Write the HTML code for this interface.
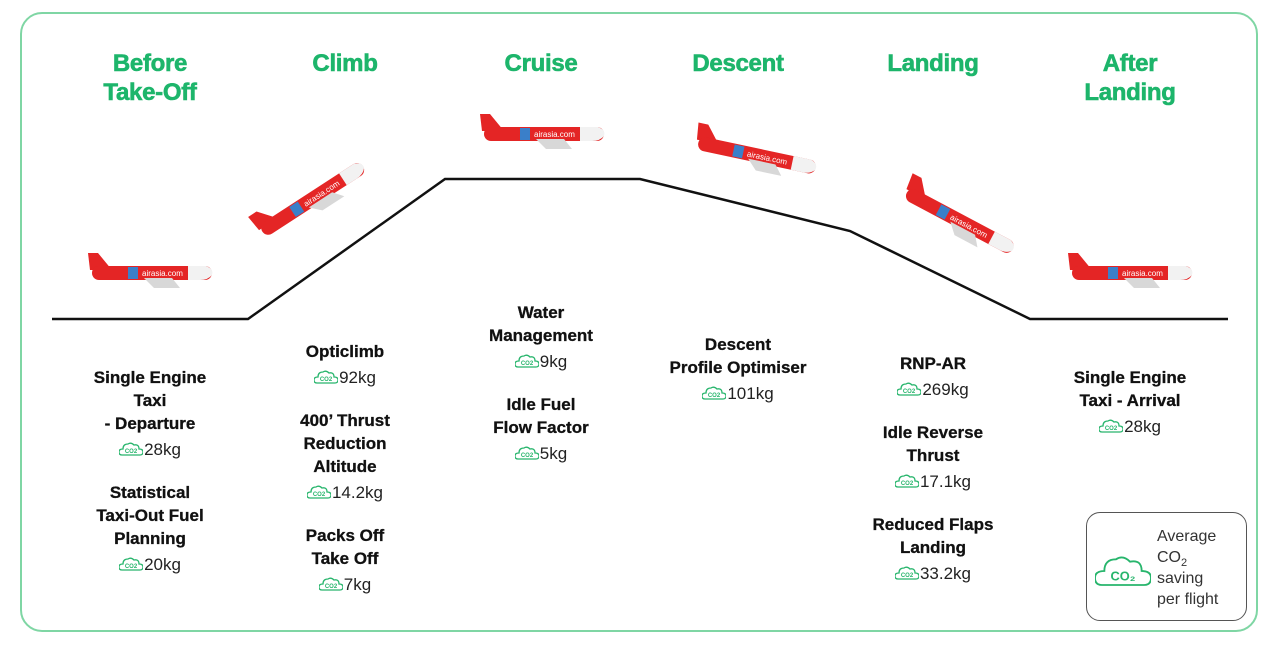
<!DOCTYPE html>
<html><head><meta charset="utf-8"><style>
body{margin:0;width:1280px;height:648px;background:#fff;position:relative;overflow:hidden;font-family:"Liberation Sans",sans-serif}
.frame{position:absolute;left:20px;top:12px;width:1238px;height:620px;border:2px solid #7fd6a4;border-radius:22px;box-sizing:border-box}
.h{position:absolute;width:200px;margin-left:-100px;text-align:center;color:#1db56b;font-weight:bold;font-size:24px;line-height:29px;letter-spacing:-0.3px;-webkit-text-stroke:0.6px #1db56b}
.col{position:absolute;width:220px;margin-left:-110px;text-align:center;font-size:17px;line-height:23px;color:#111}
.col b{display:block;font-weight:bold;-webkit-text-stroke:0.3px #111}
.c{display:block;margin-top:3px;font-size:17px;color:#222}
.g{margin-top:20px}
.ic{display:inline-block;width:24px;height:14px;vertical-align:-1px;margin-right:1px}
.leg{position:absolute;left:1086px;top:512px;width:161px;height:109px;border:1.5px solid #555;border-radius:14px;box-sizing:border-box}
.lt{position:absolute;left:70px;top:13px;font-size:16px;line-height:21px;color:#333}
.lt sub{font-size:11px;line-height:0}
</style></head><body>
<div class="frame"></div>
<svg width="1280" height="648" style="position:absolute;left:0;top:0">
<defs>
<g id="cl"><path d="M3 13 Q0 13 0 10 Q0 7 4 7 Q4 2 9 2 Q12 0 15 3 Q20 2 20 7 Q24 7 24 10 Q24 13 21 13 Z" fill="none" stroke="#27b56c" stroke-width="1.3"/></g>
</defs>
<polyline points="52,319 248,319 445,179 640,179 850,231 1030,319 1228,319" fill="none" stroke="#111" stroke-width="2.5"/>
<g transform="translate(150,273)">
<polygon points="-60,-3 -62,-20 -52,-20 -38,-3" fill="#e42525"/>
<rect x="-58" y="-7" width="120" height="14" rx="7" fill="#e42525"/>
<path d="M38 -7 H56 Q64 -4 62 2 Q58 7 50 7 H38 Z" fill="#f2f2f2"/>
<polygon points="-6,5 22,5 30,15 4,15" fill="#d8d8d8"/>
<rect x="-22" y="-6" width="10" height="12" fill="#3a7fc9"/>
<text x="-8" y="3" font-size="8" fill="#fff" font-family="Liberation Sans">airasia.com</text></g>
<g transform="translate(311,200) rotate(-33)">
<polygon points="-60,-3 -62,-20 -52,-20 -38,-3" fill="#e42525"/>
<rect x="-58" y="-7" width="120" height="14" rx="7" fill="#e42525"/>
<path d="M38 -7 H56 Q64 -4 62 2 Q58 7 50 7 H38 Z" fill="#f2f2f2"/>
<polygon points="-6,5 22,5 30,15 4,15" fill="#d8d8d8"/>
<rect x="-22" y="-6" width="10" height="12" fill="#3a7fc9"/>
<text x="-8" y="3" font-size="8" fill="#fff" font-family="Liberation Sans">airasia.com</text></g>
<g transform="translate(542,134)">
<polygon points="-60,-3 -62,-20 -52,-20 -38,-3" fill="#e42525"/>
<rect x="-58" y="-7" width="120" height="14" rx="7" fill="#e42525"/>
<path d="M38 -7 H56 Q64 -4 62 2 Q58 7 50 7 H38 Z" fill="#f2f2f2"/>
<polygon points="-6,5 22,5 30,15 4,15" fill="#d8d8d8"/>
<rect x="-22" y="-6" width="10" height="12" fill="#3a7fc9"/>
<text x="-8" y="3" font-size="8" fill="#fff" font-family="Liberation Sans">airasia.com</text></g>
<g transform="translate(755,155) rotate(12)">
<polygon points="-60,-3 -62,-20 -52,-20 -38,-3" fill="#e42525"/>
<rect x="-58" y="-7" width="120" height="14" rx="7" fill="#e42525"/>
<path d="M38 -7 H56 Q64 -4 62 2 Q58 7 50 7 H38 Z" fill="#f2f2f2"/>
<polygon points="-6,5 22,5 30,15 4,15" fill="#d8d8d8"/>
<rect x="-22" y="-6" width="10" height="12" fill="#3a7fc9"/>
<text x="-8" y="3" font-size="8" fill="#fff" font-family="Liberation Sans">airasia.com</text></g>
<g transform="translate(958,220) rotate(28)">
<polygon points="-60,-3 -62,-20 -52,-20 -38,-3" fill="#e42525"/>
<rect x="-58" y="-7" width="120" height="14" rx="7" fill="#e42525"/>
<path d="M38 -7 H56 Q64 -4 62 2 Q58 7 50 7 H38 Z" fill="#f2f2f2"/>
<polygon points="-6,5 22,5 30,15 4,15" fill="#d8d8d8"/>
<rect x="-22" y="-6" width="10" height="12" fill="#3a7fc9"/>
<text x="-8" y="3" font-size="8" fill="#fff" font-family="Liberation Sans">airasia.com</text></g>
<g transform="translate(1130,273)">
<polygon points="-60,-3 -62,-20 -52,-20 -38,-3" fill="#e42525"/>
<rect x="-58" y="-7" width="120" height="14" rx="7" fill="#e42525"/>
<path d="M38 -7 H56 Q64 -4 62 2 Q58 7 50 7 H38 Z" fill="#f2f2f2"/>
<polygon points="-6,5 22,5 30,15 4,15" fill="#d8d8d8"/>
<rect x="-22" y="-6" width="10" height="12" fill="#3a7fc9"/>
<text x="-8" y="3" font-size="8" fill="#fff" font-family="Liberation Sans">airasia.com</text></g>
</svg>

<div class="h" style="left:150px;top:49px">Before<br>Take-Off</div>
<div class="h" style="left:345px;top:49px">Climb</div>
<div class="h" style="left:541px;top:49px">Cruise</div>
<div class="h" style="left:738px;top:49px">Descent</div>
<div class="h" style="left:933px;top:49px">Landing</div>
<div class="h" style="left:1130px;top:49px">After<br>Landing</div>

<div class="col" style="left:150px;top:366px">
<b>Single Engine</b><b>Taxi</b><b>- Departure</b>
<span class="c"><svg class="ic" viewBox="0 0 24 14"><use href="#cl"/><text x="12" y="11" font-size="6" text-anchor="middle" fill="#27b56c" font-family="Liberation Sans" font-weight="bold">CO2</text></svg>28kg</span>
<b class="g">Statistical</b><b>Taxi-Out Fuel</b><b>Planning</b>
<span class="c"><svg class="ic" viewBox="0 0 24 14"><use href="#cl"/><text x="12" y="11" font-size="6" text-anchor="middle" fill="#27b56c" font-family="Liberation Sans" font-weight="bold">CO2</text></svg>20kg</span>
</div>
<div class="col" style="left:345px;top:340px">
<b>Opticlimb</b>
<span class="c"><svg class="ic" viewBox="0 0 24 14"><use href="#cl"/><text x="12" y="11" font-size="6" text-anchor="middle" fill="#27b56c" font-family="Liberation Sans" font-weight="bold">CO2</text></svg>92kg</span>
<b class="g">400’ Thrust</b><b>Reduction</b><b>Altitude</b>
<span class="c"><svg class="ic" viewBox="0 0 24 14"><use href="#cl"/><text x="12" y="11" font-size="6" text-anchor="middle" fill="#27b56c" font-family="Liberation Sans" font-weight="bold">CO2</text></svg>14.2kg</span>
<b class="g">Packs Off</b><b>Take Off</b>
<span class="c"><svg class="ic" viewBox="0 0 24 14"><use href="#cl"/><text x="12" y="11" font-size="6" text-anchor="middle" fill="#27b56c" font-family="Liberation Sans" font-weight="bold">CO2</text></svg>7kg</span>
</div>
<div class="col" style="left:541px;top:301px">
<b>Water</b><b>Management</b>
<span class="c"><svg class="ic" viewBox="0 0 24 14"><use href="#cl"/><text x="12" y="11" font-size="6" text-anchor="middle" fill="#27b56c" font-family="Liberation Sans" font-weight="bold">CO2</text></svg>9kg</span>
<b class="g">Idle Fuel</b><b>Flow Factor</b>
<span class="c"><svg class="ic" viewBox="0 0 24 14"><use href="#cl"/><text x="12" y="11" font-size="6" text-anchor="middle" fill="#27b56c" font-family="Liberation Sans" font-weight="bold">CO2</text></svg>5kg</span>
</div>
<div class="col" style="left:738px;top:333px">
<b>Descent</b><b>Profile Optimiser</b>
<span class="c"><svg class="ic" viewBox="0 0 24 14"><use href="#cl"/><text x="12" y="11" font-size="6" text-anchor="middle" fill="#27b56c" font-family="Liberation Sans" font-weight="bold">CO2</text></svg>101kg</span>
</div>
<div class="col" style="left:933px;top:352px">
<b>RNP-AR</b>
<span class="c"><svg class="ic" viewBox="0 0 24 14"><use href="#cl"/><text x="12" y="11" font-size="6" text-anchor="middle" fill="#27b56c" font-family="Liberation Sans" font-weight="bold">CO2</text></svg>269kg</span>
<b class="g">Idle Reverse</b><b>Thrust</b>
<span class="c"><svg class="ic" viewBox="0 0 24 14"><use href="#cl"/><text x="12" y="11" font-size="6" text-anchor="middle" fill="#27b56c" font-family="Liberation Sans" font-weight="bold">CO2</text></svg>17.1kg</span>
<b class="g">Reduced Flaps</b><b>Landing</b>
<span class="c"><svg class="ic" viewBox="0 0 24 14"><use href="#cl"/><text x="12" y="11" font-size="6" text-anchor="middle" fill="#27b56c" font-family="Liberation Sans" font-weight="bold">CO2</text></svg>33.2kg</span>
</div>
<div class="col" style="left:1130px;top:366px">
<b>Single Engine</b><b>Taxi - Arrival</b>
<span class="c"><svg class="ic" viewBox="0 0 24 14"><use href="#cl"/><text x="12" y="11" font-size="6" text-anchor="middle" fill="#27b56c" font-family="Liberation Sans" font-weight="bold">CO2</text></svg>28kg</span>
</div>

<div class="leg">
<svg width="56" height="36" viewBox="0 0 24 14" style="position:absolute;left:8px;top:40px"><path d="M3 13 Q0 13 0 10 Q0 7 4 7 Q4 2 9 2 Q12 0 15 3 Q20 2 20 7 Q24 7 24 10 Q24 13 21 13 Z" fill="none" stroke="#27b56c" stroke-width="0.8"/><text x="12" y="11" font-size="5.5" text-anchor="middle" fill="#27b56c" font-family="Liberation Sans" font-weight="bold">CO₂</text></svg>
<div class="lt">Average<br>CO<sub>2</sub><br>saving<br>per flight</div>
</div>
</body></html>
